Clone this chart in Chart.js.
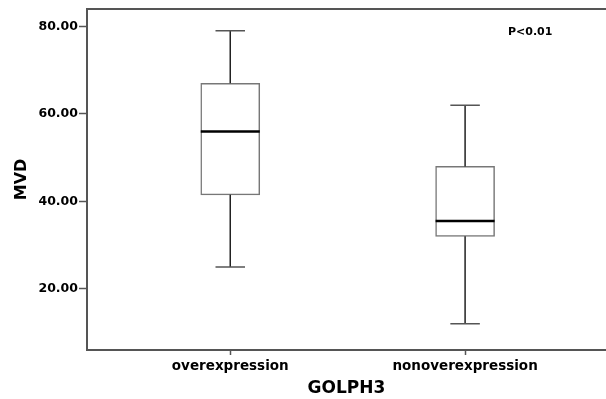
<!DOCTYPE html>
<html>
<head>
<meta charset="utf-8">
<script src="https://cdn.jsdelivr.net/npm/chart.js@4"></script>
<style>
  body { margin: 0; background: #fff; }
  #wrap { width: 606px; height: 399px; }
</style>
</head>
<body>
<div id="wrap"><canvas id="myChart" width="606" height="399"></canvas></div>
<script>
// box plot summary per group
var categories = ['overexpression', 'nonoverexpression'];
var whiskerLow = [25, 12];
var q1 = [41.5, 32];
var median = [56, 35.5];
var q3 = [67, 48];
var whiskerHigh = [79, 62];
var yTicks = [20, 40, 60, 80];

Chart.defaults.font.family = 'DejaVu Sans';
Chart.defaults.font.weight = 'bold';
Chart.defaults.color = '#000';

// whiskers, caps, median and the top frame line
var boxExtras = {
  id: 'boxExtras',
  afterDatasetsDraw: function(chart) {
    var ctx = chart.ctx;
    var x = chart.scales.x, y = chart.scales.y;
    var meta = chart.getDatasetMeta(0);
    ctx.save();
    categories.forEach(function(c, i) {
      var cx = x.getPixelForValue(i + 1);
      var half = meta.data[i].width / 2;
      var cap = half / 2;
      ctx.strokeStyle = '#222';
      ctx.lineWidth = 1.5;
      ctx.beginPath();
      ctx.moveTo(cx, y.getPixelForValue(whiskerHigh[i]));
      ctx.lineTo(cx, y.getPixelForValue(q3[i]));
      ctx.moveTo(cx, y.getPixelForValue(q1[i]));
      ctx.lineTo(cx, y.getPixelForValue(whiskerLow[i]));
      ctx.stroke();
      ctx.strokeStyle = '#555';
      ctx.beginPath();
      ctx.moveTo(cx - cap, y.getPixelForValue(whiskerHigh[i]));
      ctx.lineTo(cx + cap, y.getPixelForValue(whiskerHigh[i]));
      ctx.moveTo(cx - cap, y.getPixelForValue(whiskerLow[i]));
      ctx.lineTo(cx + cap, y.getPixelForValue(whiskerLow[i]));
      ctx.stroke();
      ctx.strokeStyle = '#000';
      ctx.lineWidth = 2.5;
      ctx.beginPath();
      ctx.moveTo(cx - half, y.getPixelForValue(median[i]));
      ctx.lineTo(cx + half, y.getPixelForValue(median[i]));
      ctx.stroke();
    });
    var a = chart.chartArea;
    ctx.strokeStyle = '#555';
    ctx.lineWidth = 2;
    ctx.beginPath();
    ctx.moveTo(a.left, a.top);
    ctx.lineTo(a.right, a.top);
    ctx.stroke();
    ctx.fillStyle = '#000';
    ctx.font = 'bold 11px "DejaVu Sans"';
    ctx.textAlign = 'left';
    ctx.textBaseline = 'middle';
    ctx.fillText('P<0.01', a.left + 421, a.top + 23);
    ctx.restore();
  }
};

var myChart = new Chart(document.getElementById('myChart'), {
  type: 'bar',
  data: {
    datasets: [{
      data: categories.map(function(c, i) { return { x: i + 1, y: [q1[i], q3[i]] }; }),
      backgroundColor: '#fff',
      borderColor: '#777',
      borderWidth: 1.5,
      borderSkipped: false,
      barThickness: 59
    }]
  },
  options: {
    responsive: false,
    animation: false,
    layout: { padding: { top: 9, left: 0, right: 0, bottom: 0 } },
    plugins: { legend: { display: false }, tooltip: { enabled: false } },
    scales: {
      x: {
        type: 'linear',
        offset: false,
        min: 0.39,
        max: 2.6,
        afterBuildTicks: function(s) { s.ticks = categories.map(function(c, i) { return { value: i + 1 }; }); },
        afterFit: function(s) { s.height = 49; },
        ticks: {
          callback: function(v) { return categories[v - 1]; },
          font: { size: 13.5, weight: 'bold' },
          padding: 3,
          maxRotation: 0,
          autoSkip: false
        },
        grid: { offset: false, drawOnChartArea: false, tickLength: 5, color: '#555', tickWidth: 1.5 },
        border: { color: '#555', width: 2 },
        title: { display: true, text: 'GOLPH3', font: { size: 17, weight: 'bold' }, padding: { top: 0, bottom: 0 } }
      },
      y: {
        min: 6,
        max: 84,
        afterBuildTicks: function(s) { s.ticks = yTicks.map(function(v) { return { value: v }; }); },
        afterFit: function(s) { s.width = 87; },
        ticks: {
          callback: function(v) { return v.toFixed(2); },
          font: { size: 12.5, weight: 'bold' },
          padding: 1
        },
        grid: { drawOnChartArea: false, tickLength: 8, color: '#555', tickWidth: 1.5 },
        border: { color: '#555', width: 2 },
        title: { display: true, text: 'MVD', font: { size: 16, weight: 'bold' }, padding: { top: 12, bottom: 0 } }
      }
    }
  },
  plugins: [boxExtras]
});
</script>
</body>
</html>
